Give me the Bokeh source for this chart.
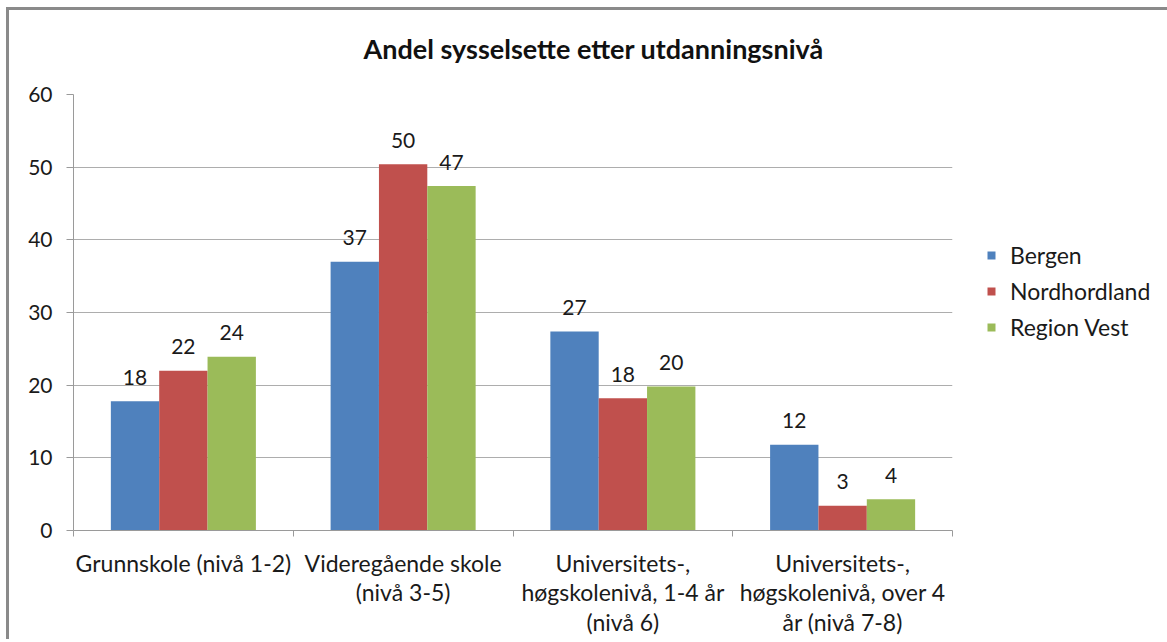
from bokeh.plotting import figure
from bokeh.models import (ColumnDataSource, Range1d, FixedTicker, LabelSet, Title,
                          Legend, LegendItem)
from bokeh.core.properties import value
from bokeh.embed import file_html
from bokeh.resources import INLINE

categories = ["Grunnskole (nivå 1-2)",
              "Videregående skole\n(nivå 3-5)",
              "Universitets-,\nhøgskolenivå, 1-4 år\n(nivå 6)",
              "Universitets-,\nhøgskolenivå, over 4\når (nivå 7-8)"]
series = ["Bergen", "Nordhordland", "Region Vest"]
bergen = [17.8, 37.0, 27.4, 11.8]
nordhordland = [22.0, 50.4, 18.2, 3.4]
region_vest = [23.9, 47.4, 19.8, 4.3]
colors = ["#4F81BD", "#C0504D", "#9BBB59"]
y_ticks = [0, 10, 20, 30, 40, 50, 60]
title_text = "Andel sysselsette etter utdanningsnivå"

FONT = "Lato"
TXT = "#1a1a1a"
FS = "21px"

p = figure(frame_width=879, frame_height=436, output_backend="svg", toolbar_location=None,
           x_range=Range1d(0, len(categories)), y_range=Range1d(0, 60), title=None,
           min_border_left=64, min_border_top=84, min_border_right=185, min_border_bottom=96)
p.styles = {"border-top": "3px solid #8a8a8a", "border-left": "3px solid #8a8a8a",
            "border-right": "0px none", "border-bottom": "0px none",
            "margin-left": "6px", "margin-top": "7px"}
p.outline_line_color = None
p.background_fill_color = "white"
p.border_fill_color = "white"

centers = [i + 0.5 for i in range(len(categories))]
bw = 0.22
offsets = [-bw, 0.0, bw]
items = []
for name, vals, col, off in zip(series, [bergen, nordhordland, region_vest], colors, offsets):
    src = ColumnDataSource(dict(x=[c + off for c in centers], top=vals,
                                lab=[str(int(round(v))) for v in vals]))
    r = p.vbar(x="x", top="top", width=bw, bottom=0, source=src, fill_color=col, line_color=None)
    items.append(LegendItem(label=name, renderers=[r]))
    p.add_layout(LabelSet(x="x", y="top", text="lab", source=src, y_offset=24,
                          text_align="center", text_baseline="middle",
                          text_font=value(FONT), text_font_size=FS, text_color=TXT))

# axes
p.xgrid.visible = False
p.ygrid.grid_line_color = "#adadad"
p.ygrid.grid_line_width = 1
p.yaxis.ticker = FixedTicker(ticks=y_ticks)
p.yaxis.axis_line_color = "#9a9a9a"
p.yaxis.major_tick_line_color = "#9a9a9a"
p.yaxis.major_tick_out = 7
p.yaxis.major_tick_in = 0
p.yaxis.minor_tick_line_color = None
p.yaxis.major_label_standoff = 14
p.yaxis.major_label_text_font = FONT
p.yaxis.major_label_text_font_size = FS
p.yaxis.major_label_text_color = TXT

p.xaxis.ticker = FixedTicker(ticks=centers, minor_ticks=list(range(len(categories) + 1)))
p.xaxis.major_label_overrides = {c: lab for c, lab in zip(centers, categories)}
p.xaxis.axis_line_color = "#9a9a9a"
p.xaxis.major_tick_line_color = None
p.xaxis.minor_tick_line_color = "#9a9a9a"
p.xaxis.minor_tick_out = 6
p.xaxis.minor_tick_in = 0
p.xaxis.major_label_standoff = 12
p.xaxis.major_label_text_font = FONT
p.xaxis.major_label_text_font_size = "23px"
p.xaxis.major_label_text_color = TXT
p.xaxis.major_label_text_line_height = 1.07

legend = Legend(items=items, location=(34, 189), orientation="vertical",
                glyph_width=10, glyph_height=10, label_text_font=FONT,
                label_text_font_size="23px", label_text_color=TXT, spacing=8,
                label_height=24, padding=0, margin=0, border_line_color=None,
                background_fill_alpha=0, label_standoff=14)
p.add_layout(legend, "right")

# spacer nearest the frame, then the title above it
p.add_layout(Title(text="\u00a0", text_font_size="1px", standoff=8, text_color="white"), "above")
p.add_layout(Title(text=title_text, align="left", offset=290, standoff=37,
                   text_font=FONT, text_font_style="bold", text_font_size="27px",
                   text_color="#111111"), "above")

open("out.html", "w").write(file_html(p, INLINE))
